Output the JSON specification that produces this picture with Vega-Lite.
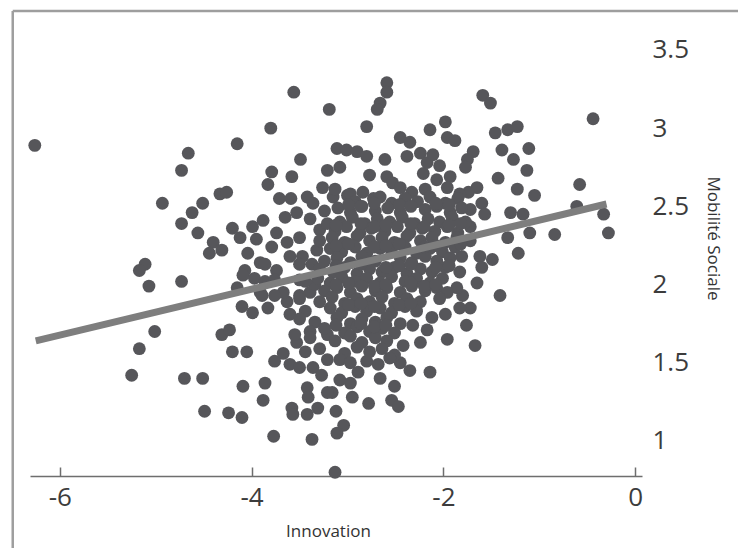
{
 "$schema": "https://vega.github.io/schema/vega-lite/v6.json",
 "width": 612,
 "height": 465,
 "autosize": {"type": "none"},
 "padding": {"left": 30, "top": 11, "right": 96, "bottom": 72},
 "background": "white",
 "config": {"view": {"stroke": null}, "font": "Open Sans"},
 "datasets": {
  "fit": [{"innovation": -6.25, "mobilite": 1.64}, {"innovation": -0.30, "mobilite": 2.515}],
  "points": [
{"innovation":-6.26,"mobilite":2.89},{"innovation":-3.56,"mobilite":3.23},{"innovation":-3.19,"mobilite":3.12},{"innovation":-3.80,"mobilite":3.00},{"innovation":-4.15,"mobilite":2.90},{"innovation":-4.66,"mobilite":2.84},{"innovation":-4.73,"mobilite":2.73},{"innovation":-3.49,"mobilite":2.80},{"innovation":-3.79,"mobilite":2.72},{"innovation":-3.58,"mobilite":2.69},{"innovation":-3.83,"mobilite":2.64},{"innovation":-4.93,"mobilite":2.52},{"innovation":-4.62,"mobilite":2.46},{"innovation":-4.73,"mobilite":2.39},{"innovation":-4.56,"mobilite":2.33},{"innovation":-5.11,"mobilite":2.13},{"innovation":-5.17,"mobilite":2.09},{"innovation":-2.80,"mobilite":3.01},{"innovation":-3.11,"mobilite":2.87},{"innovation":-3.26,"mobilite":2.62},{"innovation":-4.33,"mobilite":2.58},{"innovation":-4.26,"mobilite":2.59},{"innovation":-4.51,"mobilite":2.52},{"innovation":-3.71,"mobilite":2.55},{"innovation":-3.59,"mobilite":2.55},{"innovation":-3.42,"mobilite":2.56},{"innovation":-3.36,"mobilite":2.52},{"innovation":-3.65,"mobilite":2.43},{"innovation":-3.53,"mobilite":2.46},{"innovation":-3.88,"mobilite":2.41},{"innovation":-3.99,"mobilite":2.37},{"innovation":-4.20,"mobilite":2.36},{"innovation":-4.12,"mobilite":2.30},{"innovation":-4.40,"mobilite":2.27},{"innovation":-4.44,"mobilite":2.20},{"innovation":-4.31,"mobilite":2.22},{"innovation":-4.04,"mobilite":2.20},{"innovation":-3.95,"mobilite":2.29},{"innovation":-3.74,"mobilite":2.33},{"innovation":-3.79,"mobilite":2.24},{"innovation":-3.63,"mobilite":2.27},{"innovation":-3.50,"mobilite":2.30},{"innovation":-3.60,"mobilite":2.18},{"innovation":-3.47,"mobilite":2.18},{"innovation":-3.32,"mobilite":2.22},{"innovation":-3.29,"mobilite":2.35},{"innovation":-3.21,"mobilite":2.39},{"innovation":-3.21,"mobilite":2.73},{"innovation":-4.07,"mobilite":2.09},{"innovation":-3.91,"mobilite":2.14},{"innovation":-3.74,"mobilite":2.09},
{"innovation":-2.59,"mobilite":3.29},{"innovation":-2.59,"mobilite":3.23},{"innovation":-2.66,"mobilite":3.16},{"innovation":-2.69,"mobilite":3.12},{"innovation":-2.45,"mobilite":2.94},{"innovation":-2.35,"mobilite":2.91},{"innovation":-2.14,"mobilite":2.99},{"innovation":-1.98,"mobilite":3.04},{"innovation":-1.96,"mobilite":2.94},{"innovation":-1.88,"mobilite":2.92},{"innovation":-3.01,"mobilite":2.86},{"innovation":-2.90,"mobilite":2.85},{"innovation":-2.80,"mobilite":2.82},{"innovation":-3.08,"mobilite":2.75},{"innovation":-2.61,"mobilite":2.80},{"innovation":-2.77,"mobilite":2.70},{"innovation":-2.38,"mobilite":2.82},{"innovation":-2.24,"mobilite":2.84},{"innovation":-2.17,"mobilite":2.78},{"innovation":-2.11,"mobilite":2.83},{"innovation":-2.04,"mobilite":2.76},{"innovation":-2.21,"mobilite":2.71},{"innovation":-2.59,"mobilite":2.69},{"innovation":-2.53,"mobilite":2.65},{"innovation":-2.07,"mobilite":2.67},{"innovation":-1.93,"mobilite":2.69},{"innovation":-1.96,"mobilite":2.62},{"innovation":-3.15,"mobilite":2.56},{"innovation":-3.00,"mobilite":2.57},{"innovation":-2.84,"mobilite":2.59},{"innovation":-2.73,"mobilite":2.55},
{"innovation":-1.59,"mobilite":3.21},{"innovation":-1.51,"mobilite":3.16},{"innovation":-0.44,"mobilite":3.06},{"innovation":-1.46,"mobilite":2.97},{"innovation":-1.33,"mobilite":2.99},{"innovation":-1.23,"mobilite":3.01},{"innovation":-1.39,"mobilite":2.86},{"innovation":-1.27,"mobilite":2.80},{"innovation":-1.11,"mobilite":2.87},{"innovation":-1.13,"mobilite":2.73},{"innovation":-1.69,"mobilite":2.85},{"innovation":-1.75,"mobilite":2.80},{"innovation":-1.77,"mobilite":2.75},{"innovation":-1.43,"mobilite":2.68},{"innovation":-1.23,"mobilite":2.61},{"innovation":-1.05,"mobilite":2.57},{"innovation":-0.58,"mobilite":2.64},{"innovation":-1.65,"mobilite":2.62},{"innovation":-1.74,"mobilite":2.59},{"innovation":-1.60,"mobilite":2.52},{"innovation":-1.72,"mobilite":2.48},{"innovation":-1.57,"mobilite":2.45},{"innovation":-1.30,"mobilite":2.46},{"innovation":-1.17,"mobilite":2.45},{"innovation":-0.61,"mobilite":2.50},{"innovation":-0.33,"mobilite":2.45},{"innovation":-0.28,"mobilite":2.33},{"innovation":-0.84,"mobilite":2.32},{"innovation":-1.10,"mobilite":2.33},{"innovation":-1.33,"mobilite":2.30},{"innovation":-1.72,"mobilite":2.37},{"innovation":-1.22,"mobilite":2.20},{"innovation":-1.81,"mobilite":2.18},{"innovation":-1.62,"mobilite":2.18},{"innovation":-1.49,"mobilite":2.16},{"innovation":-1.60,"mobilite":2.11},
{"innovation":-1.65,"mobilite":2.01},{"innovation":-1.41,"mobilite":1.93},{"innovation":-1.80,"mobilite":1.93},{"innovation":-1.72,"mobilite":1.85},{"innovation":-1.76,"mobilite":1.74},{"innovation":-1.67,"mobilite":1.61},{"innovation":-1.98,"mobilite":1.81},{"innovation":-2.12,"mobilite":1.79},{"innovation":-2.17,"mobilite":1.71},{"innovation":-2.24,"mobilite":1.63},{"innovation":-1.96,"mobilite":1.65},{"innovation":-2.32,"mobilite":1.74},{"innovation":-2.14,"mobilite":1.44},{"innovation":-2.35,"mobilite":1.45},{"innovation":-2.45,"mobilite":1.50},{"innovation":-2.68,"mobilite":1.49},{"innovation":-2.80,"mobilite":1.51},{"innovation":-2.89,"mobilite":1.44},{"innovation":-2.51,"mobilite":1.35},{"innovation":-2.54,"mobilite":1.26},{"innovation":-2.47,"mobilite":1.22},{"innovation":-2.78,"mobilite":1.24},{"innovation":-2.95,"mobilite":1.28},{"innovation":-3.16,"mobilite":1.31},{"innovation":-3.12,"mobilite":1.19},{"innovation":-3.04,"mobilite":1.10},{"innovation":-3.11,"mobilite":1.05},{"innovation":-3.13,"mobilite":0.80},{"innovation":-1.86,"mobilite":1.98},{"innovation":-1.83,"mobilite":1.85},{"innovation":-2.42,"mobilite":1.61},{"innovation":-2.51,"mobilite":1.55},
{"innovation":-4.10,"mobilite":1.86},{"innovation":-3.99,"mobilite":1.82},{"innovation":-3.83,"mobilite":1.85},{"innovation":-4.31,"mobilite":1.68},{"innovation":-4.23,"mobilite":1.71},{"innovation":-4.20,"mobilite":1.57},{"innovation":-4.05,"mobilite":1.57},{"innovation":-4.51,"mobilite":1.40},{"innovation":-4.09,"mobilite":1.35},{"innovation":-3.86,"mobilite":1.37},{"innovation":-3.88,"mobilite":1.26},{"innovation":-4.49,"mobilite":1.19},{"innovation":-4.24,"mobilite":1.18},{"innovation":-4.10,"mobilite":1.15},{"innovation":-3.77,"mobilite":1.03},{"innovation":-3.37,"mobilite":1.01},{"innovation":-3.58,"mobilite":1.21},{"innovation":-3.57,"mobilite":1.17},{"innovation":-3.42,"mobilite":1.17},{"innovation":-3.31,"mobilite":1.21},{"innovation":-3.42,"mobilite":1.34},{"innovation":-3.41,"mobilite":1.28},{"innovation":-3.21,"mobilite":1.31},{"innovation":-3.76,"mobilite":1.51},{"innovation":-3.67,"mobilite":1.56},{"innovation":-3.60,"mobilite":1.49},{"innovation":-3.50,"mobilite":1.47},{"innovation":-3.36,"mobilite":1.47},{"innovation":-3.27,"mobilite":1.42},{"innovation":-3.53,"mobilite":1.63},{"innovation":-3.55,"mobilite":1.68},{"innovation":-3.60,"mobilite":1.81},{"innovation":-3.63,"mobilite":1.89},{"innovation":-3.67,"mobilite":1.95},{"innovation":-3.39,"mobilite":1.95},{"innovation":-3.21,"mobilite":1.68},{"innovation":-3.21,"mobilite":1.52},{"innovation":-4.09,"mobilite":2.06},{"innovation":-4.15,"mobilite":1.98},{"innovation":-5.07,"mobilite":1.99},{"innovation":-4.73,"mobilite":2.02},{"innovation":-5.01,"mobilite":1.70},{"innovation":-5.17,"mobilite":1.59},{"innovation":-5.25,"mobilite":1.42},{"innovation":-4.70,"mobilite":1.40},
{"innovation":-3.97,"mobilite":2.04},{"innovation":-3.86,"mobilite":2.02},{"innovation":-3.76,"mobilite":2.03},{"innovation":-3.50,"mobilite":2.03},{"innovation":-3.34,"mobilite":2.00},{"innovation":-3.91,"mobilite":1.95},{"innovation":-3.86,"mobilite":2.13},{"innovation":-3.50,"mobilite":2.13},{"innovation":-3.37,"mobilite":2.13},{"innovation":-3.89,"mobilite":1.93},{"innovation":-3.76,"mobilite":1.93},{"innovation":-3.50,"mobilite":1.93},
{"innovation":-3.13,"mobilite":2.61},{"innovation":-2.97,"mobilite":2.58},{"innovation":-2.45,"mobilite":2.62},{"innovation":-2.33,"mobilite":2.59},{"innovation":-2.19,"mobilite":2.61},{"innovation":-1.83,"mobilite":2.58},
{"innovation":-2.92,"mobilite":2.53},{"innovation":-2.66,"mobilite":2.56},{"innovation":-2.54,"mobilite":2.52},{"innovation":-2.40,"mobilite":2.55},{"innovation":-2.27,"mobilite":2.53},{"innovation":-2.14,"mobilite":2.56},{"innovation":-1.98,"mobilite":2.52},{"innovation":-1.85,"mobilite":2.55},
{"innovation":-3.24,"mobilite":2.47},{"innovation":-3.10,"mobilite":2.49},{"innovation":-2.97,"mobilite":2.46},{"innovation":-2.85,"mobilite":2.50},{"innovation":-2.71,"mobilite":2.47},{"innovation":-2.58,"mobilite":2.49},{"innovation":-2.45,"mobilite":2.46},{"innovation":-2.19,"mobilite":2.48},{"innovation":-2.07,"mobilite":2.50},{"innovation":-1.93,"mobilite":2.46},{"innovation":-1.81,"mobilite":2.49},
{"innovation":-3.39,"mobilite":2.42},{"innovation":-3.08,"mobilite":2.40},{"innovation":-2.95,"mobilite":2.43},{"innovation":-2.82,"mobilite":2.39},{"innovation":-2.69,"mobilite":2.42},{"innovation":-2.56,"mobilite":2.40},{"innovation":-2.43,"mobilite":2.43},{"innovation":-2.30,"mobilite":2.39},{"innovation":-2.16,"mobilite":2.42},{"innovation":-2.04,"mobilite":2.40},{"innovation":-1.91,"mobilite":2.43},{"innovation":-1.77,"mobilite":2.40},
{"innovation":-3.13,"mobilite":2.34},{"innovation":-3.01,"mobilite":2.37},{"innovation":-2.87,"mobilite":2.33},{"innovation":-2.75,"mobilite":2.36},{"innovation":-2.61,"mobilite":2.34},{"innovation":-2.48,"mobilite":2.37},{"innovation":-2.35,"mobilite":2.33},{"innovation":-2.22,"mobilite":2.36},{"innovation":-2.09,"mobilite":2.34},{"innovation":-1.96,"mobilite":2.37},{"innovation":-1.85,"mobilite":2.33},
{"innovation":-3.29,"mobilite":2.28},{"innovation":-3.16,"mobilite":2.30},{"innovation":-3.03,"mobilite":2.27},{"innovation":-2.90,"mobilite":2.31},{"innovation":-2.77,"mobilite":2.28},{"innovation":-2.64,"mobilite":2.30},{"innovation":-2.51,"mobilite":2.27},{"innovation":-2.38,"mobilite":2.31},{"innovation":-2.24,"mobilite":2.28},{"innovation":-2.12,"mobilite":2.30},{"innovation":-1.98,"mobilite":2.27},{"innovation":-1.86,"mobilite":2.30},{"innovation":-1.72,"mobilite":2.28},
{"innovation":-3.18,"mobilite":2.23},{"innovation":-3.06,"mobilite":2.21},{"innovation":-2.92,"mobilite":2.24},{"innovation":-2.80,"mobilite":2.20},{"innovation":-2.66,"mobilite":2.23},{"innovation":-2.54,"mobilite":2.21},{"innovation":-2.40,"mobilite":2.24},{"innovation":-2.28,"mobilite":2.20},{"innovation":-2.14,"mobilite":2.23},{"innovation":-2.01,"mobilite":2.21},{"innovation":-1.88,"mobilite":2.24},
{"innovation":-3.24,"mobilite":2.15},{"innovation":-3.11,"mobilite":2.17},{"innovation":-2.97,"mobilite":2.14},{"innovation":-2.85,"mobilite":2.18},{"innovation":-2.71,"mobilite":2.15},{"innovation":-2.45,"mobilite":2.17},{"innovation":-2.33,"mobilite":2.14},{"innovation":-2.19,"mobilite":2.18},{"innovation":-2.07,"mobilite":2.15},{"innovation":-1.93,"mobilite":2.17},
{"innovation":-3.29,"mobilite":2.10},{"innovation":-3.15,"mobilite":2.08},{"innovation":-3.03,"mobilite":2.11},{"innovation":-2.90,"mobilite":2.07},{"innovation":-2.77,"mobilite":2.10},{"innovation":-2.64,"mobilite":2.08},{"innovation":-2.51,"mobilite":2.11},{"innovation":-2.38,"mobilite":2.07},{"innovation":-2.24,"mobilite":2.10},{"innovation":-2.12,"mobilite":2.08},{"innovation":-1.98,"mobilite":2.11},{"innovation":-1.83,"mobilite":2.08},
{"innovation":-3.44,"mobilite":2.02},{"innovation":-3.31,"mobilite":2.04},{"innovation":-3.18,"mobilite":2.01},{"innovation":-3.06,"mobilite":2.05},{"innovation":-2.92,"mobilite":2.02},{"innovation":-2.80,"mobilite":2.04},{"innovation":-2.66,"mobilite":2.01},{"innovation":-2.54,"mobilite":2.05},{"innovation":-2.40,"mobilite":2.02},{"innovation":-2.28,"mobilite":2.04},{"innovation":-2.14,"mobilite":2.01},{"innovation":-2.01,"mobilite":2.04},
{"innovation":-3.24,"mobilite":1.96},{"innovation":-3.11,"mobilite":1.98},{"innovation":-2.97,"mobilite":1.95},{"innovation":-2.85,"mobilite":1.99},{"innovation":-2.71,"mobilite":1.96},{"innovation":-2.59,"mobilite":1.98},{"innovation":-2.45,"mobilite":1.95},{"innovation":-2.33,"mobilite":1.99},{"innovation":-2.19,"mobilite":1.96},{"innovation":-2.07,"mobilite":1.98},{"innovation":-1.96,"mobilite":1.95},
{"innovation":-3.50,"mobilite":1.91},{"innovation":-3.29,"mobilite":1.89},{"innovation":-3.16,"mobilite":1.92},{"innovation":-3.03,"mobilite":1.88},{"innovation":-2.90,"mobilite":1.91},{"innovation":-2.77,"mobilite":1.89},{"innovation":-2.64,"mobilite":1.92},{"innovation":-2.51,"mobilite":1.88},{"innovation":-2.38,"mobilite":1.91},{"innovation":-2.24,"mobilite":1.89},{"innovation":-2.04,"mobilite":1.91},
{"innovation":-3.44,"mobilite":1.83},{"innovation":-3.18,"mobilite":1.85},{"innovation":-3.06,"mobilite":1.82},{"innovation":-2.92,"mobilite":1.86},{"innovation":-2.80,"mobilite":1.83},{"innovation":-2.66,"mobilite":1.85},{"innovation":-2.54,"mobilite":1.82},{"innovation":-2.40,"mobilite":1.86},{"innovation":-2.28,"mobilite":1.83},
{"innovation":-3.50,"mobilite":1.78},{"innovation":-3.34,"mobilite":1.76},{"innovation":-3.11,"mobilite":1.79},{"innovation":-2.97,"mobilite":1.75},{"innovation":-2.85,"mobilite":1.78},{"innovation":-2.71,"mobilite":1.76},{"innovation":-2.59,"mobilite":1.79},{"innovation":-2.45,"mobilite":1.75},
{"innovation":-3.39,"mobilite":1.70},{"innovation":-3.24,"mobilite":1.72},{"innovation":-3.03,"mobilite":1.69},{"innovation":-2.90,"mobilite":1.73},{"innovation":-2.77,"mobilite":1.70},{"innovation":-2.64,"mobilite":1.72},{"innovation":-2.51,"mobilite":1.69},
{"innovation":-3.39,"mobilite":1.66},{"innovation":-3.13,"mobilite":1.64},{"innovation":-2.97,"mobilite":1.67},{"innovation":-2.85,"mobilite":1.63},{"innovation":-2.71,"mobilite":1.66},{"innovation":-2.59,"mobilite":1.64},
{"innovation":-3.44,"mobilite":1.57},{"innovation":-3.29,"mobilite":1.59},{"innovation":-3.03,"mobilite":1.56},{"innovation":-2.90,"mobilite":1.60},{"innovation":-2.77,"mobilite":1.57},{"innovation":-2.64,"mobilite":1.59},
{"innovation":-3.08,"mobilite":1.52},{"innovation":-2.97,"mobilite":1.50},{"innovation":-2.56,"mobilite":1.53},
{"innovation":-3.08,"mobilite":1.39},{"innovation":-2.97,"mobilite":1.37},{"innovation":-2.66,"mobilite":1.40},
{"innovation":-2.99,"mobilite":2.51},{"innovation":-2.86,"mobilite":2.50},{"innovation":-2.72,"mobilite":2.52},{"innovation":-2.46,"mobilite":2.51},{"innovation":-2.34,"mobilite":2.50},{"innovation":-2.08,"mobilite":2.52},{"innovation":-1.94,"mobilite":2.51},
{"innovation":-3.12,"mobilite":2.38},{"innovation":-2.86,"mobilite":2.39},{"innovation":-2.72,"mobilite":2.37},{"innovation":-2.60,"mobilite":2.38},{"innovation":-2.34,"mobilite":2.39},{"innovation":-2.20,"mobilite":2.37},{"innovation":-1.94,"mobilite":2.38},{"innovation":-1.82,"mobilite":2.39},
{"innovation":-3.12,"mobilite":2.25},{"innovation":-2.99,"mobilite":2.26},{"innovation":-2.72,"mobilite":2.24},{"innovation":-2.60,"mobilite":2.25},{"innovation":-2.46,"mobilite":2.26},{"innovation":-2.20,"mobilite":2.24},{"innovation":-2.08,"mobilite":2.25},{"innovation":-1.82,"mobilite":2.26},
{"innovation":-3.12,"mobilite":2.12},{"innovation":-2.86,"mobilite":2.13},{"innovation":-2.60,"mobilite":2.11},{"innovation":-2.46,"mobilite":2.12},{"innovation":-2.34,"mobilite":2.13},{"innovation":-2.08,"mobilite":2.11},{"innovation":-1.94,"mobilite":2.12},
{"innovation":-3.12,"mobilite":2.00},{"innovation":-2.99,"mobilite":2.01},{"innovation":-2.72,"mobilite":1.99},{"innovation":-2.60,"mobilite":2.00},{"innovation":-2.34,"mobilite":2.01},{"innovation":-2.20,"mobilite":1.99},{"innovation":-2.08,"mobilite":2.00},
{"innovation":-2.99,"mobilite":1.87},{"innovation":-2.86,"mobilite":1.88},{"innovation":-2.72,"mobilite":1.86},{"innovation":-2.46,"mobilite":1.87},{"innovation":-2.34,"mobilite":1.88},
{"innovation":-3.12,"mobilite":1.74},{"innovation":-2.86,"mobilite":1.75},{"innovation":-2.72,"mobilite":1.73},{"innovation":-2.60,"mobilite":1.74}
  ]
 },
 "layer": [
  {
   "data": {"values": [{}]},
   "mark": {"type": "rule", "color": "#9e9e9e", "strokeWidth": 2.5},
   "encoding": {
    "x": {"datum": -6.49, "type": "quantitative"},
    "x2": {"datum": 1.5},
    "y": {"datum": 3.749, "type": "quantitative"}
   }
  },
  {
   "data": {"values": [{}]},
   "mark": {"type": "rule", "color": "#9e9e9e", "strokeWidth": 2.5},
   "encoding": {
    "x": {"datum": -6.49, "type": "quantitative"},
    "y": {"datum": 3.749, "type": "quantitative"},
    "y2": {"datum": 0.1}
   }
  },
  {
   "data": {"name": "points"},
   "mark": {"type": "circle", "size": 165, "color": "#56565a", "opacity": 1},
   "encoding": {
    "x": {
     "field": "innovation", "type": "quantitative",
     "scale": {"domain": [-6.31, 0.07], "nice": false, "zero": false},
     "axis": {
      "title": "Innovation", "values": [-6, -4, -2, 0], "labelExpr": "'' + datum.value",
      "grid": false, "domainColor": "#6e6e6e", "domainWidth": 1.5,
      "tickColor": "#6e6e6e", "tickWidth": 1.5, "tickSize": -9,
      "labelPadding": 17, "labelFontSize": 26, "labelColor": "#3c3c3c", "labelFont": "Open Sans",
      "labelFlush": false, "labelOverlap": false,
      "titleFont": "Open Sans", "titleFontSize": 17, "titleFontWeight": "normal", "titleColor": "#333333",
      "titleX": 298, "titleY": 55, "titleBaseline": "middle", "titleAlign": "center"
     }
    },
    "y": {
     "field": "mobilite", "type": "quantitative",
     "scale": {"domain": [0.776, 3.749], "nice": false, "zero": false},
     "axis": {
      "orient": "right", "title": "Mobilité Sociale", "values": [1, 1.5, 2, 2.5, 3, 3.5], "format": "~g",
      "grid": false, "domain": false, "ticks": false,
      "labelPadding": 10, "labelFontSize": 26, "labelColor": "#3c3c3c", "labelFont": "Open Sans",
      "labelAlign": "left", "labelBaseline": "middle", "labelFlush": false, "labelOverlap": false,
      "titleFont": "Open Sans", "titleFontSize": 17, "titleFontWeight": "normal", "titleColor": "#333333",
      "titleAngle": 90, "titleX": 70, "titleY": 227, "titleBaseline": "middle", "titleAlign": "center"
     }
    }
   }
  },
  {
   "data": {"name": "fit"},
   "mark": {"type": "line", "color": "#7e7e7e", "strokeWidth": 7, "strokeCap": "butt"},
   "encoding": {
    "x": {"field": "innovation", "type": "quantitative"},
    "y": {"field": "mobilite", "type": "quantitative"}
   }
  }
 ]
}
